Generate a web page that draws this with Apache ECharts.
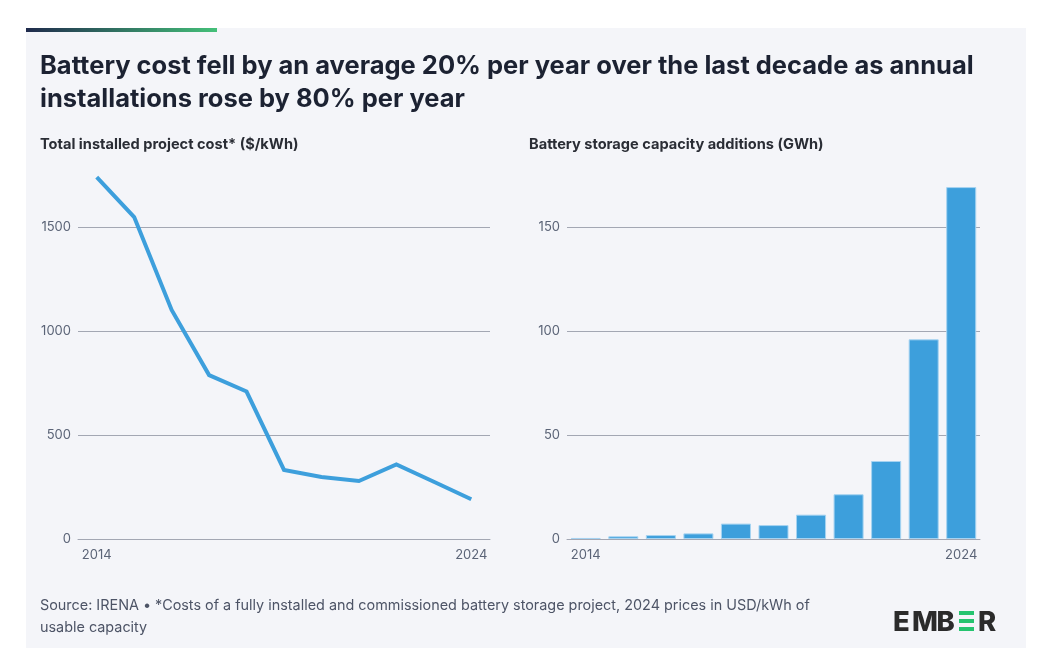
<!DOCTYPE html>
<html>
<head>
<meta charset="utf-8">
<script src="https://cdn.jsdelivr.net/npm/echarts@6/dist/echarts.min.js"></script>
<style>
html,body{margin:0;padding:0;background:#ffffff;}
#chart{width:1039px;height:669px;}
</style>
</head>
<body>
<div id="chart"></div>
<script>
const years = ['2014','2015','2016','2017','2018','2019','2020','2021','2022','2023','2024'];
const costValues = [1740, 1548, 1101, 788, 709, 332, 298, 279, 359, 275, 191];
const capacityValues = [0.5, 1.3, 1.9, 2.7, 7.4, 6.7, 11.7, 21.5, 37.5, 96.0, 169.2];
const costTicks = [0, 500, 1000, 1500];
const capacityTicks = [0, 50, 100, 150];
const shownYears = ['2014', '2024'];

const FONT = 'Inter, "Open Sans", sans-serif';
const axisTextColor = '#5b6477';
const gridColor = '#a3a7b3';
const blue = '#3d9fdc';
const logoDark = '#2b2b2b';
const logoGreen = '#25c46f';

const chart = echarts.init(document.getElementById('chart'), null, {renderer: 'canvas'});

function xAxisFor(gridIndex) {
  return {
    type: 'category',
    gridIndex: gridIndex,
    data: years,
    boundaryGap: true,
    axisLine: {lineStyle: {color: gridColor, width: 1}},
    axisTick: {
      alignWithLabel: true,
      length: 4,
      interval: (i, v) => shownYears.includes(v),
      lineStyle: {color: '#c3c7d0'}
    },
    axisLabel: {
      interval: (i, v) => shownYears.includes(v),
      color: axisTextColor,
      fontFamily: FONT,
      fontSize: 13,
      margin: 10
    }
  };
}

function yAxisFor(gridIndex, ticks, margin) {
  return {
    type: 'value',
    gridIndex: gridIndex,
    min: ticks[0],
    max: ticks[ticks.length - 1],
    interval: ticks[1] - ticks[0],
    axisLine: {show: false},
    axisTick: {show: false},
    splitLine: {lineStyle: {color: gridColor, width: 1}},
    axisLabel: {color: axisTextColor, fontFamily: FONT, fontSize: 13, margin: margin, formatter: (v) => String(v)}
  };
}

function logoLetter(ch, x) {
  return {type: 'text', z: 5, x: x, y: 622.7,
    style: {text: ch, fill: logoDark, font: '800 27.5px ' + FONT, verticalAlign: 'middle', align: 'left'}};
}

const option = {
  backgroundColor: 'transparent',
  animation: false,
  textStyle: {fontFamily: FONT},
  graphic: [
    {type: 'rect', z: 0, silent: true, shape: {x: 26, y: 28, width: 1000, height: 620}, style: {fill: '#f4f5f9'}},
    {type: 'rect', z: 1, silent: true, shape: {x: 26, y: 28, width: 191, height: 4},
      style: {fill: new echarts.graphic.LinearGradient(0, 0, 1, 0, [{offset: 0, color: '#1f2a4c'}, {offset: 1, color: '#44c079'}])}},
    {type: 'text', z: 5, left: 40, top: 595,
      style: {text: 'Source: IRENA • *Costs of a fully installed and commissioned battery storage project, 2024 prices in USD/kWh of\nusable capacity',
        fill: '#4d5466', font: '14.4px ' + FONT, lineHeight: 22}},
    logoLetter('E', 893),
    logoLetter('M', 912),
    logoLetter('B', 936.5),
    {type: 'rect', z: 5, shape: {x: 959, y: 611, width: 15, height: 4}, style: {fill: logoGreen}},
    {type: 'rect', z: 5, shape: {x: 959, y: 619, width: 15, height: 4}, style: {fill: logoGreen}},
    {type: 'rect', z: 5, shape: {x: 959, y: 627, width: 15, height: 4}, style: {fill: logoGreen}},
    logoLetter('R', 978)
  ],
  title: [
    {
      text: 'Battery cost fell by an average 20% per year over the last decade as annual\ninstallations rose by 80% per year',
      left: 40, top: 50, padding: 0,
      textStyle: {fontFamily: FONT, fontSize: 25.5, fontWeight: 700, color: '#1c2232', lineHeight: 33}
    },
    {
      text: 'Total installed project cost* ($/kWh)',
      left: 40, top: 137, padding: 0,
      textStyle: {fontFamily: FONT, fontSize: 14.6, fontWeight: 700, color: '#2a2d35'}
    },
    {
      text: 'Battery storage capacity additions (GWh)',
      left: 529, top: 137, padding: 0,
      textStyle: {fontFamily: FONT, fontSize: 14.6, fontWeight: 700, color: '#2a2d35'}
    }
  ],
  grid: [
    {left: 78, right: 549, top: 227, bottom: 130, containLabel: false},
    {left: 567, right: 59, top: 227, bottom: 130, containLabel: false}
  ],
  xAxis: [xAxisFor(0), xAxisFor(1)],
  yAxis: [yAxisFor(0, costTicks, 7), yAxisFor(1, capacityTicks, 7)],
  series: [
    {
      type: 'line', xAxisIndex: 0, yAxisIndex: 0, data: costValues,
      clip: false, symbol: 'none',
      lineStyle: {color: blue, width: 4, join: 'miter'},
      z: 3
    },
    {
      type: 'bar', xAxisIndex: 1, yAxisIndex: 1, data: capacityValues,
      clip: false, barCategoryGap: '20%',
      itemStyle: {color: blue, borderColor: '#a6d3f1', borderWidth: 1},
      z: 3
    }
  ]
};
chart.setOption(option);
</script>
</body>
</html>
